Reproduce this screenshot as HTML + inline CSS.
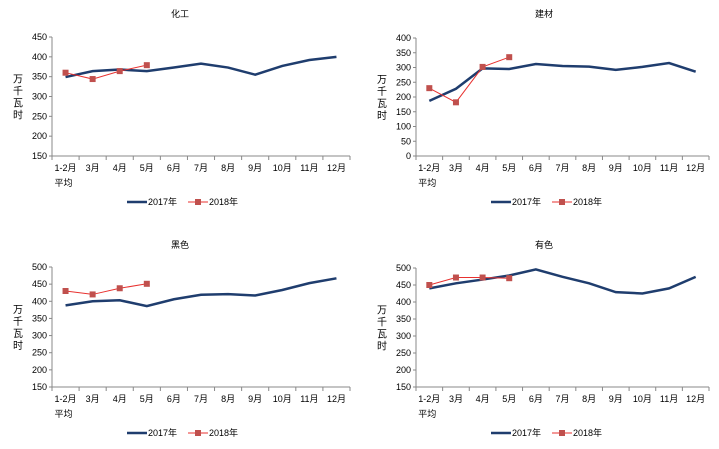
<!DOCTYPE html>
<html><head><meta charset="utf-8"><style>
body{margin:0;background:#fff;width:719px;height:444px;overflow:hidden}
svg text{font-family:"Liberation Sans","Noto Sans CJK SC",sans-serif;font-size:9px;fill:#000}
</style></head><body>
<svg id="s" width="719" height="444" xmlns="http://www.w3.org/2000/svg"></svg>
<script>
var S=document.getElementById('s'),h='';
var cats=['1-2月','3月','4月','5月','6月','7月','8月','9月','10月','11月','12月'];
var C=[
{t:'化工',x0:52,x1:350,yt:37,yb:156,min:150,max:450,step:50,ty:17,ox:0,oy:0,
 a:[349,364,368,364,373,383,373,355,377,392,400],b:[360,344,364,379]},
{t:'建材',x0:416,x1:709,yt:38,yb:156,min:0,max:400,step:50,ty:17,ox:364,oy:0,
 a:[187,228,297,295,312,305,303,292,302,315,286],b:[230,182,302,335]},
{t:'黑色',x0:52,x1:350,yt:267,yb:387,min:150,max:500,step:50,ty:248,ox:0,oy:231,
 a:[388,400,403,386,406,419,421,417,433,453,467],b:[430,420,438,451]},
{t:'有色',x0:416,x1:709,yt:268,yb:387,min:150,max:500,step:50,ty:248,ox:364,oy:231,
 a:[440,455,466,478,496,474,455,429,425,440,474],b:[450,472,472,470]}];
C.forEach(function(c){
 var w=(c.x1-c.x0)/11;
 function Y(v){return c.yb-(v-c.min)/(c.max-c.min)*(c.yb-c.yt);}
 function X(i){return c.x0+w*(i+0.5);}
 h+='<text x="'+(180+c.ox)+'" y="'+c.ty+'" text-anchor="middle">'+c.t+'</text>';
 h+='<line x1="'+c.x0+'" y1="'+c.yt+'" x2="'+c.x0+'" y2="'+c.yb+'" stroke="#888" stroke-width="1"/>';
 h+='<line x1="'+c.x0+'" y1="'+c.yb+'" x2="'+c.x1+'" y2="'+c.yb+'" stroke="#888" stroke-width="1"/>';
 for(var v=c.min;v<=c.max;v+=c.step){var y=Y(v);
  h+='<line x1="'+(c.x0-3)+'" y1="'+y+'" x2="'+c.x0+'" y2="'+y+'" stroke="#888"/>';
  h+='<text x="'+(c.x0-5)+'" y="'+(y+3)+'" text-anchor="end">'+v+'</text>';}
 for(var i=0;i<=11;i++){var x=c.x0+w*i;h+='<line x1="'+x+'" y1="'+c.yb+'" x2="'+x+'" y2="'+(c.yb+4)+'" stroke="#888"/>';}
 cats.forEach(function(k,i){h+='<text x="'+X(i)+'" y="'+(c.yb+15)+'" text-anchor="middle">'+k+'</text>';});
 h+='<text x="'+(X(0)-2)+'" y="'+(c.yb+30)+'" text-anchor="middle">平均</text>';
 var ym=(c.yt+c.yb)/2;
 ['万','千','瓦','时'].forEach(function(k,i){h+='<text x="'+(18+c.ox)+'" y="'+(ym-14+i*12)+'" text-anchor="middle" style="font-size:10px">'+k+'</text>';});
 var p=c.a.map(function(v,i){return X(i)+','+Y(v)}).join(' ');
 h+='<polyline points="'+p+'" fill="none" stroke="#1f3d6e" stroke-width="2.5"/>';
 p=c.b.map(function(v,i){return X(i)+','+Y(v)}).join(' ');
 h+='<polyline points="'+p+'" fill="none" stroke="#e8312f" stroke-width="1"/>';
 c.b.forEach(function(v,i){h+='<rect x="'+(X(i)-3)+'" y="'+(Y(v)-3)+'" width="6" height="6" fill="#c0504d"/>';});
 var ly=c.oy+202;
 h+='<line x1="'+(127+c.ox)+'" y1="'+ly+'" x2="'+(147+c.ox)+'" y2="'+ly+'" stroke="#1f3d6e" stroke-width="2.5"/>';
 h+='<text x="'+(148+c.ox)+'" y="'+(ly+3)+'">2017年</text>';
 h+='<line x1="'+(188+c.ox)+'" y1="'+ly+'" x2="'+(208+c.ox)+'" y2="'+ly+'" stroke="#e8312f" stroke-width="1"/>';
 h+='<rect x="'+(195+c.ox)+'" y="'+(ly-3)+'" width="6" height="6" fill="#c0504d"/>';
 h+='<text x="'+(209+c.ox)+'" y="'+(ly+3)+'">2018年</text>';
});
S.innerHTML=h;
</script>
</body></html>
